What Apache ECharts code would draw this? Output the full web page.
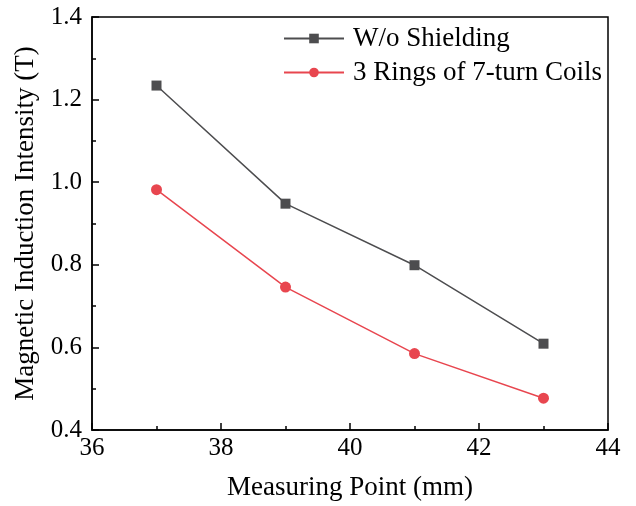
<!DOCTYPE html>
<html>
<head>
<meta charset="utf-8">
<script src="https://cdn.jsdelivr.net/npm/echarts@6/dist/echarts.min.js"></script>
<style>
  html, body { margin: 0; padding: 0; background: #fff; }
  #main { width: 636px; height: 506px; }
</style>
</head>
<body>
<div id="main"></div>
<script>
/* Magnetic induction vs measuring point */

var points = [37, 39, 41, 43];
var noShield = [1.234, 0.948, 0.799, 0.609];
var rings = [0.982, 0.746, 0.585, 0.477];
var seriesNames = ['W/o Shielding', '3 Rings of 7-turn Coils'];

var font = 'Liberation Serif';

function pairs(xs, ys) {
	return xs.map(function (x, i) { return [x, ys[i]]; });
}

var chart = echarts.init(document.getElementById('main'));

var option = {
	animation: false,
	grid: {
		show: true,
		left: 92,
		right: 28,
		top: 17,
		bottom: 73,
		borderColor: '#000',
		borderWidth: 1.5,
		backgroundColor: 'transparent'
	},
	legend: {
		data: seriesNames,
		left: 278,
		top: 20,
		orient: 'vertical',
		itemWidth: 60,
		itemHeight: 12,
		itemGap: 7,
		textStyle: { fontFamily: font, fontSize: 27, color: '#000', padding: [0, 0, 0, 4] }
	},
	xAxis: {
		type: 'value',
		min: 36,
		max: 44,
		interval: 2,
		name: 'Measuring Point (mm)',
		nameLocation: 'middle',
		nameGap: 44,
		nameTextStyle: { fontFamily: font, fontSize: 27, color: '#000' },
		axisLine: { lineStyle: { color: '#000', width: 1.5 } },
		axisTick: { inside: true, length: 7, lineStyle: { color: '#000', width: 1.5 } },
		minorTick: { show: true, splitNumber: 2, length: 4, lineStyle: { color: '#000', width: 1.5 } },
		axisLabel: { fontFamily: font, fontSize: 25, color: '#000', margin: 6 },
		splitLine: { show: false }
	},
	yAxis: {
		type: 'value',
		min: 0.4,
		max: 1.4,
		interval: 0.2,
		name: 'Magnetic Induction Intensity (T)',
		nameLocation: 'middle',
		nameGap: 52,
		nameTextStyle: { fontFamily: font, fontSize: 27, color: '#000' },
		axisLine: { lineStyle: { color: '#000', width: 1.5 } },
		axisTick: { inside: true, length: 7, lineStyle: { color: '#000', width: 1.5 } },
		minorTick: { show: true, splitNumber: 2, length: 4, lineStyle: { color: '#000', width: 1.5 } },
		axisLabel: {
			fontFamily: font, fontSize: 25, color: '#000', margin: 10,
			formatter: function (v) { return v.toFixed(1); }
		},
		splitLine: { show: false }
	},
	series: [
		{
			name: seriesNames[0],
			type: 'line',
			data: pairs(points, noShield),
			symbol: 'rect',
			symbolSize: 10,
			itemStyle: { color: '#4d4d4f' },
			lineStyle: { color: '#4d4d4f', width: 1.5 }
		},
		{
			name: seriesNames[1],
			type: 'line',
			data: pairs(points, rings),
			symbol: 'circle',
			symbolSize: 11,
			itemStyle: { color: '#e8464f' },
			lineStyle: { color: '#e8464f', width: 1.5 }
		}
	]
};

chart.setOption(option);
</script>
</body>
</html>
